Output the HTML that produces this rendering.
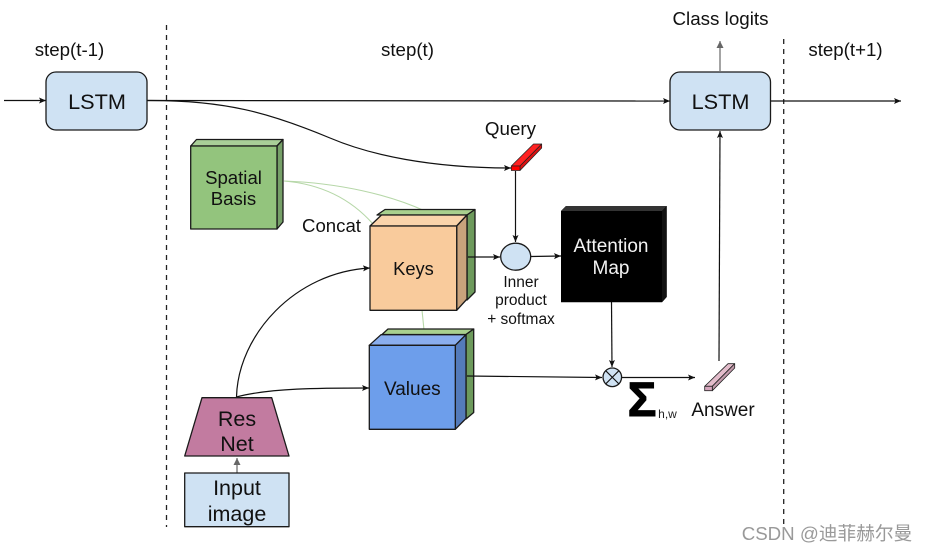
<!DOCTYPE html>
<html><head><meta charset="utf-8"><style>
html,body{margin:0;padding:0;background:#fff}
svg{display:block}
text{font-family:"Liberation Sans",sans-serif;fill:#111;text-anchor:middle}
.s{stroke:#1a1a1a;stroke-width:1.3;stroke-linejoin:round}
.l{fill:none;stroke:#111;stroke-width:1.2}
.g{fill:none;stroke:#b6d7a8;stroke-width:1.1}
</style></head><body>
<svg width="927" height="552" viewBox="0 0 927 552" xmlns="http://www.w3.org/2000/svg">
<defs>
<marker id="a" markerWidth="8" markerHeight="7" refX="7" refY="3.5" orient="auto" markerUnits="userSpaceOnUse"><path d="M0 0.5L7 3.5L0 6.5L1.5 3.5Z" fill="#111"/></marker>
<marker id="b" markerWidth="8" markerHeight="8" refX="7" refY="4" orient="auto" markerUnits="userSpaceOnUse"><path d="M0 0.5L7 4L0 7.5Z" fill="#666"/></marker>
</defs>

<!-- dashed dividers -->
<line x1="166.5" y1="25" x2="166.5" y2="527" stroke="#222" stroke-width="1.3" stroke-dasharray="5 5"/>
<line x1="783.7" y1="39" x2="783.7" y2="527" stroke="#222" stroke-width="1.3" stroke-dasharray="5 5"/>

<!-- green concat lines -->
<path class="g" d="M284 181C340 183 390 195 425 211"/>
<path class="g" d="M284 181C320 184 350 198 373 224"/>
<path class="g" d="M422 310L424 330"/>

<!-- connectors -->
<path class="l" d="M4 100.5H46" marker-end="url(#a)"/>
<path class="l" d="M147 100.5L670 101" marker-end="url(#a)"/>
<path class="l" d="M770 101H901" marker-end="url(#a)"/>
<path class="l" d="M147 100.5C225 100 270 113 330 138C370 155 430 168 511 168" marker-end="url(#a)"/>
<path class="l" d="M515.5 171V242" marker-end="url(#a)"/>
<path class="l" d="M531 256.5L561 256" marker-end="url(#a)"/>
<path class="l" d="M611.5 302L612 367" marker-end="url(#a)"/>
<path class="l" d="M622 377.5H695" marker-end="url(#a)"/>
<path class="l" d="M719 361L720 131" stroke="#222" marker-end="url(#a)"/>
<path fill="none" stroke="#666" stroke-width="1.2" d="M720 71V41" marker-end="url(#b)"/>
<path class="l" d="M236.500 397C238 335 295 272 370 268" marker-end="url(#a)"/>
<path class="l" d="M236.500 397C270 388 320 388 369 388" marker-end="url(#a)"/>
<path fill="none" stroke="#666" stroke-width="1.2" d="M237 473V458" marker-end="url(#b)"/>

<!-- LSTM -->
<rect class="s" x="46" y="72" width="101" height="58" rx="10" fill="#cfe2f3"/>
<text x="97" y="109" font-size="21.7">LSTM</text>
<rect class="s" x="670" y="72" width="100.500" height="58" rx="10" fill="#cfe2f3"/>
<text x="720.500" y="109" font-size="21.7">LSTM</text>

<!-- Spatial Basis -->
<path class="s" d="M190.700 146L196.500 139.500H283L277 146Z" fill="#a9cf98"/>
<path class="s" d="M277 146L283 139.500V222L277 229Z" fill="#76a068"/>
<rect class="s" x="190.700" y="146" width="86.300" height="83" fill="#93c47d"/>
<text x="233.500" y="184" font-size="18.600">Spatial</text>
<text x="233.500" y="205" font-size="18.600">Basis</text>

<!-- Keys stack -->
<path class="s" d="M377 215L385 209.500H475L467 215Z" fill="#a9d08e"/>
<path class="s" d="M467 215L475 209.500V292L467 300Z" fill="#6d9a5c"/>
<path class="s" d="M370 226L381.500 215H467L456.700 226Z" fill="#fad4ab"/>
<path class="s" d="M456.700 226L467 215V299L456.700 310.300Z" fill="#c9a37c"/>
<rect class="s" x="370" y="226" width="86.700" height="84.300" fill="#f9cb9c"/>
<text x="413.500" y="275" font-size="18.300">Keys</text>
<text x="331.500" y="232" font-size="18.600">Concat</text>
<path class="l" d="M468 257H500" marker-end="url(#a)"/>

<!-- Values stack -->
<path class="s" d="M382 334.500L388 329H473.700L466 334.500Z" fill="#a9d08e"/>
<path class="s" d="M466 334.500L473.700 329V412.500L466 419Z" fill="#6d9a5c"/>
<path class="s" d="M369.300 345.300L381 334.700H466L455.300 345.300Z" fill="#8aaeee"/>
<path class="s" d="M455.300 345.300L466 334.700V418.500L455.300 429.300Z" fill="#547bba"/>
<rect class="s" x="369.300" y="345.300" width="86" height="84" fill="#6d9eeb"/>
<text x="412.300" y="395" font-size="19">Values</text>
<path class="l" d="M467 376L602 377.500" marker-end="url(#a)"/>

<!-- ResNet -->
<path class="s" d="M202 397.700H271.700L289 456H184.700Z" fill="#c27ba0"/>
<text x="237" y="426" font-size="21.500">Res</text>
<text x="237" y="451" font-size="21.500">Net</text>

<!-- Input image -->
<rect class="s" x="184.700" y="473" width="104.300" height="53.700" fill="#cfe2f3"/>
<text x="237" y="495" font-size="21.500">Input</text>
<text x="237" y="521" font-size="21.500">image</text>

<!-- Query -->
<path d="M511.300 166L533.500 144H541.700L520 166Z" fill="#f22" stroke="#222" stroke-width="0.7" stroke-linejoin="round"/>
<path d="M520 166L541.700 144V148L520 170.500Z" fill="#dd1111" stroke="#222" stroke-width="0.7" stroke-linejoin="round"/>
<rect x="511.300" y="166" width="8.700" height="4.500" fill="#f00" stroke="#222" stroke-width="0.7"/>
<text x="510.500" y="135" font-size="18.800">Query</text>

<!-- Inner product -->
<ellipse class="s" cx="515.700" cy="256.700" rx="15" ry="13.500" fill="#cfe2f3"/>
<text x="521" y="287" font-size="15.500">Inner</text>
<text x="521" y="305" font-size="15.500">product</text>
<text x="521" y="324" font-size="15.500">+ softmax</text>

<!-- Attention map -->
<path d="M561 211L566 206H666.700V297L662 302.300H561Z" fill="#000"/>
<path d="M561 211L566 206H666.700L662 211Z" fill="#333"/>
<path d="M662 211L666.700 206V297L662 302.300Z" fill="#111"/>
<text x="611" y="252" font-size="19" style="fill:#f3f3f3">Attention</text>
<text x="611" y="274" font-size="19" style="fill:#f3f3f3">Map</text>

<!-- Otimes -->
<circle class="s" cx="612.300" cy="377.300" r="9.300" fill="#cfe2f3"/>
<path d="M605.800 370.800L618.800 383.800M618.800 370.800L605.800 383.800" stroke="#111" stroke-width="1.100"/>

<!-- Sigma -->
<text x="642" y="416" font-size="48" font-weight="bold" stroke="#000" stroke-width="1" style="fill:#000">Σ</text>
<text x="667.500" y="418" font-size="12" style="fill:#222">h,w</text>

<!-- Answer -->
<path d="M704.700 386.300L728 363.700H734.700L712.300 386.300Z" fill="#e3bccb" stroke="#222" stroke-width="0.8" stroke-linejoin="round"/>
<path d="M712.300 386.300L734.700 363.700V368L712.300 390.700Z" fill="#c29aab" stroke="#222" stroke-width="0.8" stroke-linejoin="round"/>
<rect x="704.700" y="386.300" width="7.600" height="4.400" fill="#d5a6bd" stroke="#222" stroke-width="0.8"/>
<text x="723" y="416" font-size="19">Answer</text>

<!-- Step labels -->
<text x="69.500" y="56" font-size="18.700">step(t-1)</text>
<text x="407.500" y="56" font-size="18.700">step(t)</text>
<text x="845.500" y="56" font-size="18.700">step(t+1)</text>
<text x="720.500" y="25" font-size="18.800">Class logits</text>

<!-- Watermark -->
<text x="827" y="540" font-size="18.700" style="fill:#999;font-family:'Liberation Sans','Noto Sans CJK SC',sans-serif">CSDN @迪菲赫尔曼</text>
</svg>
</body></html>
